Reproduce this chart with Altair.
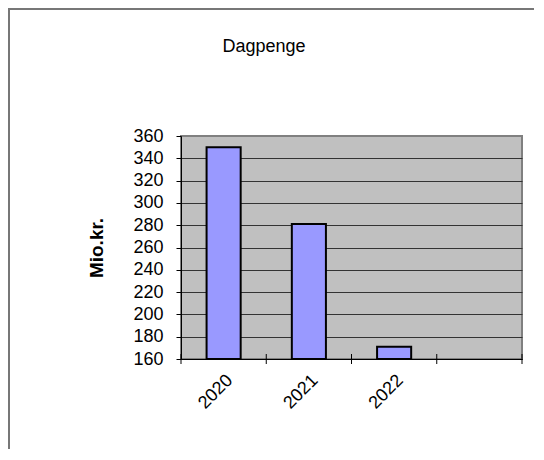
import altair as alt
import pandas as pd

# ---- data ----
years = ["2020", "2021", "2022"]
values = [350, 281, 171]
slots = ["2020", "2021", "2022", " "]       # category slots on the x axis (last one empty)
y_ticks = [160, 180, 200, 220, 240, 260, 280, 300, 320, 340, 360]
chart_title = "Dagpenge"
y_title = "Mio.kr."

df = pd.DataFrame({"year": years, "value": values})
slot_df = pd.DataFrame({"slot": slots})
one = pd.DataFrame({"k": [0]})

W, H = 341, 223
FONT = "Liberation Sans"

xscale = alt.Scale(domain=slots, paddingInner=0, paddingOuter=0)
yscale = alt.Scale(domain=[160, 360], nice=False, zero=False)

bars = alt.Chart(df).mark_bar(
    color="#9999FF", stroke="black", strokeWidth=2,
    width=alt.RelativeBandSize(0.4)
).encode(
    x=alt.X("year:N", scale=xscale, sort=slots, title=None),
    y=alt.Y("value:Q", scale=yscale, title=y_title,
            axis=alt.Axis(values=y_ticks,
                          gridOpacity={"condition": {"test": "datum.value === 360", "value": 0}, "value": 1})),
    y2=alt.datum(160),
)

# category boundary tick marks crossing the x axis
ticks = alt.Chart(slot_df).mark_rule(color="black", strokeWidth=1).encode(
    x=alt.X("slot:N", scale=xscale, sort=slots, bandPosition=0, title=None),
    y=alt.value(H - 5), y2=alt.value(H + 5),
)
end_tick = alt.Chart(one).mark_rule(color="black", strokeWidth=1).encode(
    x=alt.value(W), y=alt.value(H - 5), y2=alt.value(H + 5),
)

# chart frame (only top and left edges fall inside the picture)
frame = alt.Chart(one).mark_rect(fill=None, stroke="#777777", strokeWidth=2).encode(
    x=alt.value(-172), x2=alt.value(W + 40), y=alt.value(-127), y2=alt.value(H + 120),
)

title = alt.Chart(one).mark_text(
    text=chart_title, font=FONT, fontSize=18, color="black", baseline="middle", align="center"
).encode(x=alt.value(83), y=alt.value(-89))

chart = alt.layer(frame, bars, ticks, end_tick, title).properties(
    width=W, height=H,
    background="white",
    autosize=alt.AutoSizeParams(type="none"),
    padding={"left": 173, "top": 128, "right": 12, "bottom": 90},
).configure_view(
    fill="#C0C0C0", stroke="#808080", strokeWidth=2
).configure_axisX(
    labelAngle=-45, ticks=False, grid=False, domainColor="black", domainWidth=1,
    labelFont=FONT, labelFontSize=18, labelColor="black", labelPadding=12,
).configure_axisY(
    grid=True, gridColor="#333333", gridWidth=1,
    ticks=True, tickSize=5, tickColor="black", domainColor="black", domainWidth=1,
    labelFont=FONT, labelFontSize=18, labelColor="black", labelPadding=13,
    titleFont=FONT, titleFontSize=19, titleFontWeight="bold", titleColor="black", titlePadding=26,
)

chart.save("out.html", embed_options={"renderer": "svg", "actions": False})
